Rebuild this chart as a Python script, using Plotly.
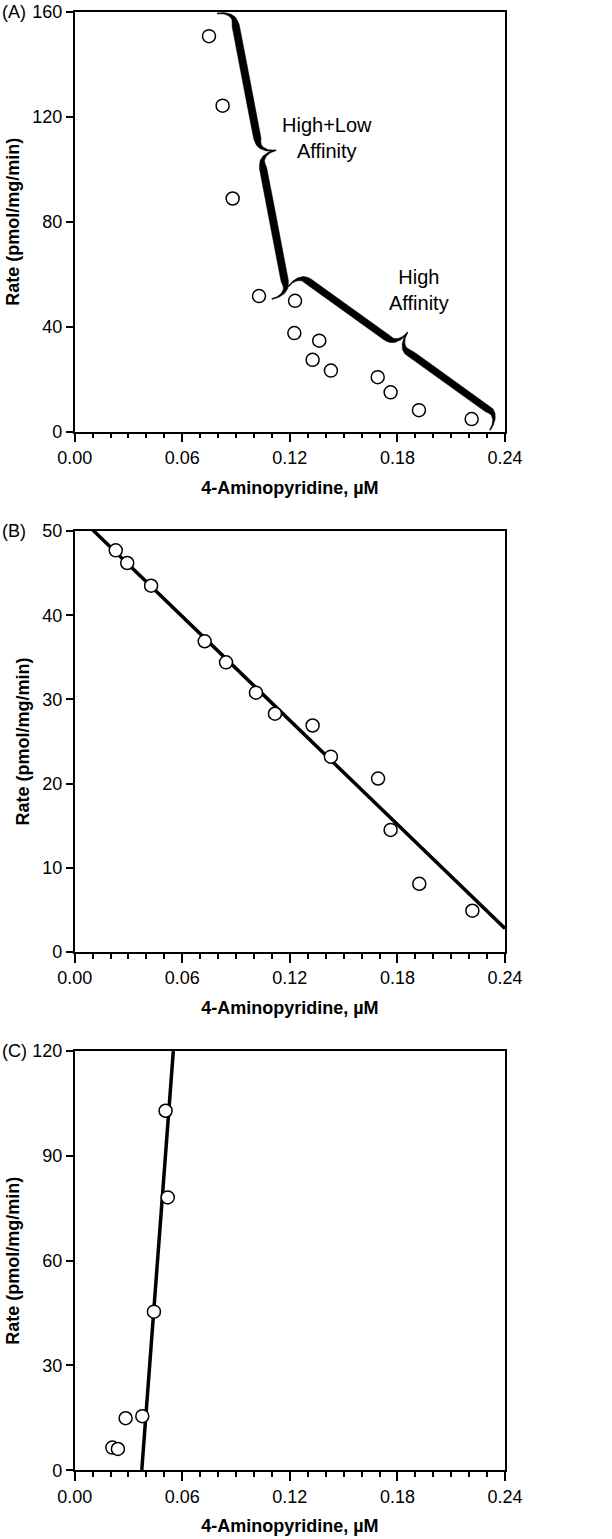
import numpy as np
import plotly.graph_objects as go

# panel A: all data points
a_conc = [0.0749, 0.0825, 0.0881, 0.1028, 0.1229, 0.1225, 0.1364, 0.1327, 0.1429, 0.1690, 0.1762, 0.1920, 0.2214]
a_rate = [150.8, 124.3, 88.9, 51.7, 49.9, 37.6, 34.7, 27.4, 23.3, 20.8, 15.0, 8.2, 4.8]

# panel B: high affinity component + fit
b_conc = [0.0229, 0.0293, 0.0426, 0.0725, 0.0844, 0.1011, 0.1117, 0.1327, 0.1429, 0.1692, 0.1762, 0.1922, 0.2218]
b_rate = [47.7, 46.2, 43.5, 36.9, 34.4, 30.8, 28.3, 26.9, 23.2, 20.6, 14.5, 8.1, 4.9]
b_fit_conc = [0.0, 0.24]
b_fit_rate = [52.2, 2.8]

# panel C: low affinity component + fit
c_conc = [0.0210, 0.0241, 0.0284, 0.0377, 0.0442, 0.0519, 0.0507]
c_rate = [6.5, 6.1, 14.9, 15.5, 45.4, 78.1, 102.9]
c_fit_conc = [0.0374, 0.0550]
c_fit_rate = [0.0, 120.0]

# braces in panel A (start, end) and their labels
brace_ends = [((0.0794, 159.4), (0.1100, 50.6)), ((0.1190, 55.2), (0.2316, 0.65))]
brace_text = ["High+Low<br>Affinity", "High<br>Affinity"]
brace_text_pos = [(0.1405, 111.9), (0.1923, 54.1)]

W, H = 612, 1539
FONT = "Liberation Sans, Arial, sans-serif"
xdom = [74.7 / W, 505 / W]
panels = {  # top / bottom of plot area in px
    "A": (12, 431.7, 160, 40),
    "B": (531, 952, 50, 10),
    "C": (1051, 1470.3, 120, 30),
}


def brace(p0, p1, sx, sy, w=16, r=11, thick=7.5, n=30):
    # curly brace built in pixel space then mapped back to data units
    x0, y0 = p0[0] * sx, p0[1] * sy
    x1, y1 = p1[0] * sx, p1[1] * sy
    L = np.hypot(x1 - x0, y1 - y0)
    d = np.array([(x1 - x0) / L, (y1 - y0) / L])
    nr = np.array([-d[1], d[0]])
    th = np.linspace(0, np.pi / 2, n)
    u1, v1 = r * (1 - np.cos(th)), w * np.sin(th)
    u2 = np.linspace(r, L / 2 - r, n)[1:-1]
    v2 = np.full_like(u2, w)
    u3, v3 = L / 2 - r + r * np.sin(th), w + w * (1 - np.cos(th))
    uh = np.concatenate([u1, u2, u3])
    vh = np.concatenate([v1, v2, v3])
    u = np.concatenate([uh, L - uh[::-1][1:]])
    v = np.concatenate([vh, vh[::-1][1:]])
    t = np.where(u <= L / 2, u / (L / 2), (L - u) / (L / 2))
    tk = 1.0 + (thick - 1.0) * np.clip(np.sin(np.pi * np.clip(t, 0, 1)) * 3.0, 0, 1)
    px = x0 + u * d[0] + v * nr[0]
    py = y0 + u * d[1] + v * nr[1]
    gx, gy = np.gradient(px), np.gradient(py)
    gl = np.hypot(gx, gy)
    nx, ny = -gy / gl, gx / gl
    ox = np.concatenate([px + nx * tk / 2, (px - nx * tk / 2)[::-1]])
    oy = np.concatenate([py + ny * tk / 2, (py - ny * tk / 2)[::-1]])
    return ox / sx, oy / sy


fig = go.Figure()

marker = dict(symbol="circle", size=13, color="white", line=dict(color="black", width=1.5))

# panel A
sx = (505 - 74.7) / 0.24
sy_a = (panels["A"][1] - panels["A"][0]) / 160
for (p0, p1) in brace_ends:
    bx, by = brace(p0, p1, sx, sy_a)
    fig.add_trace(go.Scatter(x=bx, y=by, mode="lines", fill="toself", fillcolor="black",
                             line=dict(width=0.5, color="black"), hoverinfo="skip",
                             showlegend=False, xaxis="x", yaxis="y"))
fig.add_trace(go.Scatter(x=a_conc, y=a_rate, mode="markers", marker=marker,
                         showlegend=False, xaxis="x", yaxis="y"))

# panel B
fig.add_trace(go.Scatter(x=b_fit_conc, y=b_fit_rate, mode="lines", line=dict(color="black", width=3.5),
                         showlegend=False, xaxis="x2", yaxis="y2"))
fig.add_trace(go.Scatter(x=b_conc, y=b_rate, mode="markers", marker=marker,
                         showlegend=False, xaxis="x2", yaxis="y2"))

# panel C
fig.add_trace(go.Scatter(x=c_fit_conc, y=c_fit_rate, mode="lines", line=dict(color="black", width=3.5),
                         showlegend=False, xaxis="x3", yaxis="y3"))
fig.add_trace(go.Scatter(x=c_conc, y=c_rate, mode="markers", marker=marker,
                         showlegend=False, xaxis="x3", yaxis="y3"))

axis_common = dict(showline=True, mirror=True, linecolor="black", linewidth=1.5,
                   showgrid=False, zeroline=False, ticks="outside", tickcolor="black",
                   tickwidth=1.5, automargin=False,
                   tickfont=dict(family=FONT, size=18, color="black"))

layout = dict(width=W, height=H, margin=dict(l=0, r=0, t=0, b=0, autoexpand=False),
              plot_bgcolor="white", paper_bgcolor="white",
              font=dict(family=FONT, color="black"), annotations=[])

for i, (key, (top, bot, ymax, dy)) in enumerate(panels.items(), start=1):
    sfx = "" if i == 1 else str(i)
    layout["xaxis" + sfx] = dict(
        axis_common, domain=xdom, range=[0, 0.24], dtick=0.06, tick0=0, tickformat=".2f",
        ticklen=9, anchor="y" + sfx,
        minor=dict(dtick=0.01, ticks="outside", ticklen=5, tickcolor="black", tickwidth=1.5),
        title=dict(text="<b>4-Aminopyridine, µM</b>", standoff=14,
                   font=dict(family=FONT, size=18, color="black")))
    layout["yaxis" + sfx] = dict(
        axis_common, domain=[1 - bot / H, 1 - top / H], range=[0, ymax], dtick=dy, tick0=0,
        ticklen=7, anchor="x" + sfx,
        title=dict(text="<b>Rate (pmol/mg/min)</b>", standoff=8,
                   font=dict(family=FONT, size=18, color="black")))
    layout["annotations"].append(dict(
        text="(" + key + ")", x=0.0, y=1 - top / H, xref="paper", yref="paper",
        xanchor="left", yanchor="middle", showarrow=False,
        font=dict(family=FONT, size=18, color="black")))

for txt, (tx, ty) in zip(brace_text, brace_text_pos):
    layout["annotations"].append(dict(
        text=txt, x=tx, y=ty, xref="x", yref="y", showarrow=False,
        font=dict(family=FONT, size=20, color="black")))

fig.update_layout(**layout)
# drop the browser's default body margin so the figure fills the window exactly
fig.write_html("out.html", config={"displayModeBar": False},
               post_script="document.body.style.margin='0';")
